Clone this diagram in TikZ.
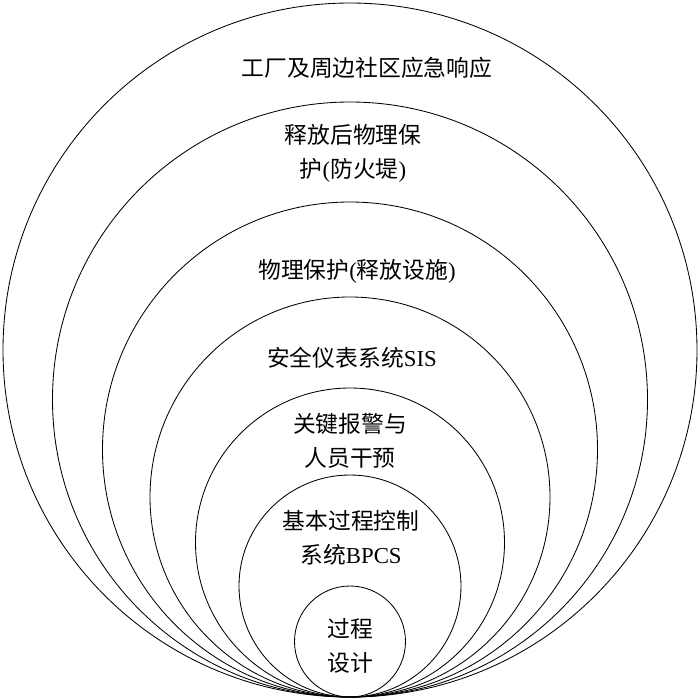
\documentclass[tikz,border=0pt]{standalone}
\usepackage{fontspec}
\setmainfont{Liberation Serif}
\newfontfamily\cjk{Noto Sans CJK SC}
\newcommand{\lp}{{\rmfamily(}}
\newcommand{\rp}{{\rmfamily)}}
\tikzset{
  ring/.style={draw, line width=0.6pt},
  layer/.style={align=center, font=\fontsize{16.2}{24}\selectfont\cjk, inner sep=0pt}
}
\begin{document}
\begin{tikzpicture}[x=0.025cm, y=-0.025cm]
\useasboundingbox (0,0) rectangle (700,700);
\coordinate (tip) at (350,697);
\draw[ring] (350,350) circle (347);
\draw[ring] (350,399.5) circle (297.5);
\draw[ring] (350,449.5) circle (247.5);
\draw[ring] (350,497) circle (200);
\draw[ring] (350,542.5) circle (154.5);
\draw[ring] (350,586) circle (111);
\draw[ring] (350,641.5) circle (55.5);
\node[layer] (response) at (367,68) {工厂及周边社区应急响应};
\node[layer] (dike) at (353,153) {释放后物理保\\护\lp 防火堤\rp};
\node[layer] (relief) at (357,271) {物理保护\lp 释放设施\rp};
\node[layer] (sis) at (352,358) {安全仪表系统{\rmfamily SIS}};
\node[layer] (alarm) at (350,441) {关键报警与\\人员干预};
\node[layer] (bpcs) at (351,538) {基本过程控制\\系统{\rmfamily BPCS}};
\node[layer] (design) at (350,646) {过程\\设计};
\end{tikzpicture}
\end{document}
